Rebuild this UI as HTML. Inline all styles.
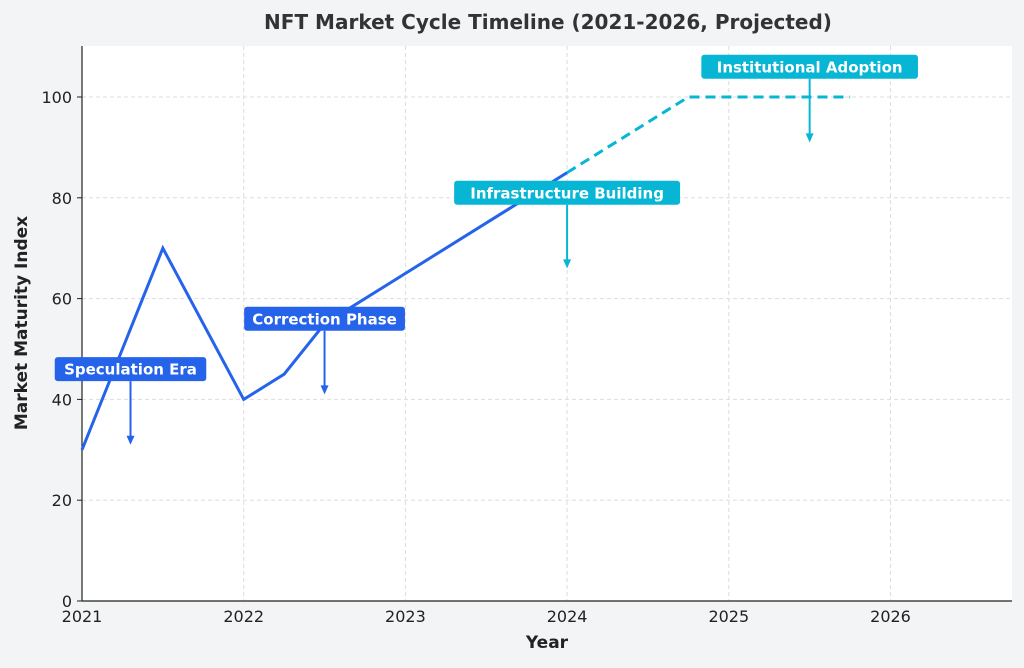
<!DOCTYPE html>
<html><head><meta charset="utf-8"><style>
body{margin:0;background:#f3f4f6;font-family:"DejaVu Sans","Liberation Sans",sans-serif}
svg text{font-family:"DejaVu Sans","Liberation Sans",sans-serif}
</style></head><body>
<svg width="1024" height="664" viewBox="0 0 1024 664" id="c">
<rect width="1024" height="664" fill="#f3f4f6"/>
<rect x="82" y="46" width="930" height="555" fill="#ffffff"/>
<text x="548" y="29" text-anchor="middle" font-size="20" font-weight="bold" fill="#333">NFT Market Cycle Timeline (2021-2026, Projected)</text>
<g id="grid"></g><g id="axes"></g><g id="series"></g><g id="ann"></g>
<text x="547" y="648" text-anchor="middle" font-size="17" font-weight="bold" fill="#222">Year</text>
<text transform="translate(27,323) rotate(-90)" text-anchor="middle" font-size="17" font-weight="bold" fill="#222">Market Maturity Index</text>
</svg>
<script>
const xTicks=[2021,2022,2023,2024,2025,2026];
const yTicks=[0,20,40,60,80,100];
const actualYears=[2021,2021.5,2022,2022.25,2022.5,2024];
const actualValues=[30,70,40,45,55,85];
const projYears=[2024,2024.75,2025.75];
const projValues=[85,100,100];
const annLabels=["Speculation Era","Correction Phase","Infrastructure Building","Institutional Adoption"];
const annX=[2021.3,2022.5,2024,2025.5];
const annY=[31,41,66,91];
const annTextY=[46,56,81,106];
const annColors=["#2563eb","#2563eb","#06b6d4","#06b6d4"];
const NS="http://www.w3.org/2000/svg";
const X=v=>82+(v-2021)*161.7, Y=v=>601-v*5.04;
function mk(t,a,p){const e=document.createElementNS(NS,t);for(const k in a)e.setAttribute(k,a[k]);p.appendChild(e);return e;}
const g=document.getElementById('grid'),ax=document.getElementById('axes'),s=document.getElementById('series'),an=document.getElementById('ann');
xTicks.forEach(t=>{const l=mk('line',{x1:X(t),x2:X(t),y1:46,y2:601,stroke:'#ddd','stroke-dasharray':'4 3'},g);

const tx=mk('text',{x:X(t),y:622,'text-anchor':'middle','font-size':16,fill:'#222'},ax);tx.textContent=t;
});
yTicks.forEach(t=>{const l=mk('line',{x1:82,x2:1012,y1:Y(t),y2:Y(t),stroke:'#ddd','stroke-dasharray':'4 3'},g);

mk('line',{x1:77,x2:82,y1:Y(t),y2:Y(t),stroke:'#222'},ax);
const tx=mk('text',{x:72,y:Y(t)+6,'text-anchor':'end','font-size':16,fill:'#222'},ax);tx.textContent=t;
});
const a1=mk('line',{x1:82,x2:82,y1:46,y2:601,stroke:'#222','stroke-width':1.2},ax);

const a2=mk('line',{x1:82,x2:1012,y1:601,y2:601,stroke:'#222','stroke-width':1.2},ax);

const p1=mk('polyline',{points:actualYears.map((v,i)=>X(v)+','+Y(actualValues[i])).join(' '),fill:'none',stroke:'#2563eb','stroke-width':3},s);

const p2=mk('polyline',{points:projYears.map((v,i)=>X(v)+','+Y(projValues[i])).join(' '),fill:'none',stroke:'#06b6d4','stroke-width':3,'stroke-dasharray':'10 6'},s);

annLabels.forEach((lab,i)=>{const x=X(annX[i]),ty=Y(annTextY[i]),py=Y(annY[i]),c=annColors[i];
const w=lab.length*9.3+12;
const ln=mk('line',{x1:x,x2:x,y1:ty+12,y2:py-2,stroke:c,'stroke-width':2},an);

mk('polygon',{points:`${x-4},${py-9} ${x+4},${py-9} ${x},${py}`,fill:c},an);
const r=mk('rect',{x:x-w/2,y:ty-12,width:w,height:24,rx:3,fill:c},an);

const t=mk('text',{x:x,y:ty+5.5,'text-anchor':'middle','font-size':15,'font-weight':'bold',fill:'#fff'},an);t.textContent=lab;
});
</script>
</body></html>
